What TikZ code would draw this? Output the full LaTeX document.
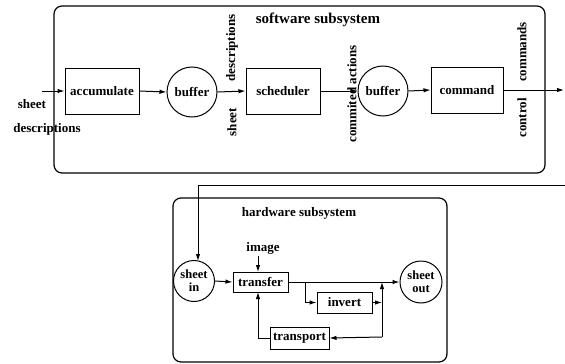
\documentclass[tikz,border=0pt]{standalone}
\usepackage{fontspec}
\setmainfont{Liberation Serif}
\usetikzlibrary{arrows.meta}
\begin{document}
\begin{tikzpicture}[x=1pt,y=-1pt,
  every node/.style={font=\fontsize{13}{12}\selectfont\bfseries},
  sys/.style={draw,line width=1.2pt,rounded corners=8pt},
  blockbox/.style={draw,line width=1pt,inner sep=0pt},
  store/.style={draw,circle,line width=1pt,inner sep=0pt,align=center},
  flow/.style={line width=1pt,-{Latex[length=7pt,width=4.5pt]}},
  lbl/.style={inner sep=0pt}]
\useasboundingbox (0,0) rectangle (565,364);

% software subsystem
\draw[sys] (54,6) rectangle (545,173);
\node[lbl,font=\fontsize{15}{15}\selectfont\bfseries] (swtitle) at (318,20) {software subsystem};

\coordinate (swin) at (42,91);
\node[blockbox,minimum width=74pt,minimum height=46pt] (acc) at (102,91) {accumulate};
\node[store,minimum size=50pt] (buf1) at (192,92) {buffer};
\node[blockbox,minimum width=74pt,minimum height=46pt] (sched) at (283,91) {scheduler};
\node[store,minimum size=50pt] (buf2) at (383,91) {buffer};
\node[blockbox,minimum width=72pt,minimum height=46pt] (cmd) at (467,90) {command};
\coordinate (swout) at (564,90);

\draw[flow] (swin) -- (acc.west);
\draw[flow] (acc.east) -- (buf1.west);
\draw[flow] (buf1.east) -- (sched.west);
\draw[flow] (sched.east) -- (buf2.west);
\draw[flow] (buf2.east) -- (cmd.west);
\draw[flow] (cmd.east) -- (swout);

\node[lbl] (lsheet) at (32,104) {sheet};
\node[lbl] (ldesc) at (47,129) {descriptions};
\node[lbl,rotate=90] (sdesc) at (232,48) {descriptions};
\node[lbl,rotate=90] (ssheet) at (232,122) {sheet};
\node[lbl,rotate=90] (lcommit) at (352,94) {commited actions};
\node[lbl,rotate=90] (lcmds) at (522,52) {commands};
\node[lbl,rotate=90] (lctrl) at (522,118) {control};

% hardware subsystem
\draw[sys] (173,198) rectangle (447,362);
\node[lbl] (hwtitle) at (299,213) {hardware subsystem};

\node[store,minimum size=41pt,font=\fontsize{12.5}{13}\selectfont\bfseries] (sin) at (194,281) {sheet\\in};
\node[blockbox,minimum width=55pt,minimum height=20pt] (xfer) at (260.5,282) {transfer};
\node[store,minimum size=42pt,font=\fontsize{12.5}{13}\selectfont\bfseries] (sout) at (421,282) {sheet\\out};
\node[blockbox,minimum width=55pt,minimum height=21pt] (inv) at (344.5,302.5) {invert};
\node[blockbox,minimum width=59pt,minimum height=22pt] (trans) at (299.5,338) {transport};
\node[lbl] (img) at (263,248) {image};

\coordinate (ret) at (565,185);
\coordinate (retc) at (198,185);
\coordinate (imgtip) at (258,256);
\coordinate (split) at (305,282);
\coordinate (splitlo) at (305,302.5);
\coordinate (jmid) at (382,302.5);
\coordinate (jlow) at (382,337);
\coordinate (jtop) at (382,282);
\coordinate (tleft) at (258,338);

\draw[flow] (ret) -- (retc) -- (198,261);
\draw[flow] (imgtip) -- (258,272);
\draw[flow] (sin.east) -- (xfer.west);
\draw[flow] (xfer.east) -- (sout.west);
\draw[flow] (split) -- (splitlo) -- (inv.west);
\draw[flow] (inv.east) -- (jmid);
\draw[flow] (jlow) -- (jtop);
\draw[flow] (jlow) -- (trans.east);
\draw[flow] (trans.west) -- (tleft) -- (258,292);
\end{tikzpicture}
\end{document}
